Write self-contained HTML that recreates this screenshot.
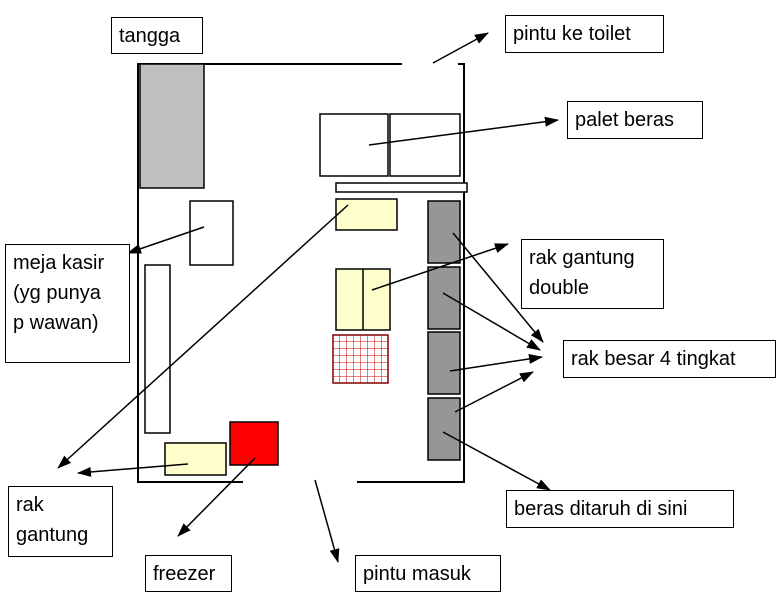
<!DOCTYPE html>
<html><head><style>
body{margin:0;background:#fff;}
.l{position:absolute;border:1.5px solid #000;background:#fff;font-family:"Liberation Sans",sans-serif;font-size:20px;line-height:30px;padding:3px 7px;box-sizing:border-box;white-space:nowrap;}
</style></head><body>
<div style="position:relative;width:781px;height:596px;overflow:hidden">
<svg width="781" height="596" style="position:absolute;left:0;top:0">
<defs><marker id="a" markerWidth="14" markerHeight="10" refX="13" refY="5" orient="auto" markerUnits="userSpaceOnUse"><path d="M0,0 L14,5 L0,10z" fill="#000"/></marker>
<pattern id="g" width="7" height="7" patternUnits="userSpaceOnUse" x="333" y="335"><rect width="7" height="7" fill="#fff"/><path d="M7,0V7M0,7H7" stroke="#c00000" stroke-width="1"/></pattern></defs>
<g stroke="#000" stroke-width="2" fill="none">
<path d="M402,64H138V482H243M357,482H464V64H458"/>
</g>
<g stroke="#000" stroke-width="1.5">
<rect x="140" y="64" width="64" height="124" fill="#c0c0c0"/>
<rect x="190" y="201" width="43" height="64" fill="#fff"/>
<rect x="145" y="265" width="25" height="168" fill="#fff"/>
<rect x="165" y="443" width="61" height="32" fill="#ffffcc"/>
<rect x="230" y="422" width="48" height="43" fill="#ff0000"/>
<rect x="320" y="114" width="68" height="62" fill="#fff"/>
<rect x="390" y="114" width="70" height="62" fill="#fff"/>
<rect x="336" y="183" width="131" height="9" fill="#fff"/>
<rect x="336" y="199" width="61" height="31" fill="#ffffcc"/>
<rect x="336" y="269" width="54" height="61" fill="#ffffcc"/>
<line x1="363" y1="269" x2="363" y2="330"/>
<rect x="333" y="335" width="55" height="48" fill="url(#g)" stroke="#800000"/>
<rect x="428" y="201" width="32" height="62" fill="#969696"/>
<rect x="428" y="267" width="32" height="62" fill="#969696"/>
<rect x="428" y="332" width="32" height="62" fill="#969696"/>
<rect x="428" y="398" width="32" height="62" fill="#969696"/>
</g>
<g stroke="#000" stroke-width="1.5" marker-end="url(#a)">
<line x1="433" y1="63" x2="488" y2="33"/>
<line x1="369" y1="145" x2="558" y2="120"/>
<line x1="204" y1="227" x2="128" y2="253"/>
<line x1="348" y1="205" x2="58" y2="468"/>
<line x1="188" y1="464" x2="78" y2="473"/>
<line x1="255" y1="458" x2="178" y2="536"/>
<line x1="315" y1="480" x2="338" y2="562"/>
<line x1="372" y1="290" x2="508" y2="244"/>
<line x1="453" y1="233" x2="543" y2="342"/>
<line x1="443" y1="293" x2="540" y2="350"/>
<line x1="450" y1="371" x2="542" y2="357"/>
<line x1="455" y1="412" x2="533" y2="372"/>
<line x1="443" y1="432" x2="550" y2="490"/>
</g>
</svg>
<div class="l" style="left:111px;top:17px;width:92px;height:37px">tangga</div>
<div class="l" style="left:505px;top:15px;width:159px;height:38px">pintu ke toilet</div>
<div class="l" style="left:567px;top:101px;width:136px;height:38px">palet beras</div>
<div class="l" style="left:521px;top:239px;width:143px;height:70px">rak gantung<br>double</div>
<div class="l" style="left:563px;top:340px;width:213px;height:38px">rak besar 4 tingkat</div>
<div class="l" style="left:5px;top:244px;width:125px;height:119px">meja kasir<br>(yg punya<br>p wawan)</div>
<div class="l" style="left:8px;top:486px;width:105px;height:71px">rak<br>gantung</div>
<div class="l" style="left:506px;top:490px;width:228px;height:38px">beras ditaruh di sini</div>
<div class="l" style="left:145px;top:555px;width:87px;height:37px">freezer</div>
<div class="l" style="left:355px;top:555px;width:146px;height:37px">pintu masuk</div>
</div>
</body></html>
